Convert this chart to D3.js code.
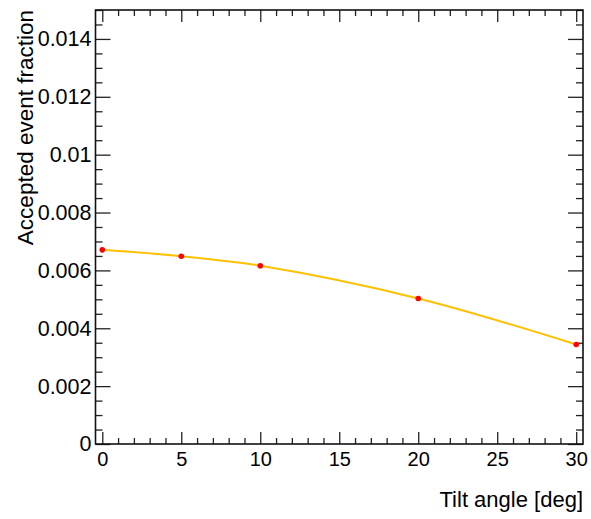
<!DOCTYPE html>
<html>
<head>
<meta charset="utf-8">
<script src="https://cdn.jsdelivr.net/npm/d3@7"></script>
<style>
	body { margin: 0; background: #fff; }
	text { font-family: "Liberation Sans", Arial, sans-serif; fill: #000; }
</style>
</head>
<body>
<script>
const tiltAngles = [0, 5, 10, 20, 30];
const acceptedFraction = [0.00671, 0.00649, 0.00616, 0.00503, 0.00344];
const xMajorTicks = [0, 5, 10, 15, 20, 25, 30];
const yMajorTicks = [0, 0.002, 0.004, 0.006, 0.008, 0.01, 0.012, 0.014];

const svgWidth = 591;
const svgHeight = 519;
const frame = { left: 95.5, right: 583, top: 10, bottom: 444 };

const svg = d3.select("body")
	.append("svg")
	.attr("width", svgWidth)
	.attr("height", svgHeight);

const xScale = d3.scaleLinear()
	.domain([-0.43, 30.43])
	.range([frame.left, frame.right]);

const yScale = d3.scaleLinear()
	.domain([0, 0.015])
	.range([frame.bottom, frame.top]);

const xMinor = d3.range(0, 31, 1).filter((v) => v % 5 !== 0);
const yMinor = d3.range(0, 0.0150001, 0.0005).filter((v) => Math.abs(v / 0.002 - Math.round(v / 0.002)) > 1e-6);

const axesLayer = svg.append("g").attr("class", "axes");

// ticks point inward, like ROOT
const drawAxis = (axis, transform, showLabels) => {
	const g = axesLayer.append("g")
		.attr("transform", transform)
		.call(axis);
	g.select(".domain").remove();
	g.selectAll("line").attr("stroke", "#222").attr("stroke-width", 1.3);
	if (!showLabels) g.selectAll("text").remove();
	return g;
};

// bottom
const xLabels = drawAxis(
	d3.axisBottom(xScale).tickValues(xMajorTicks).tickSize(-12).tickPadding(8).tickFormat(d3.format("d")),
	`translate(0 ${frame.bottom})`, true);
xLabels.selectAll("text").style("font-size", "20px").attr("font-family", null);
drawAxis(d3.axisBottom(xScale).tickValues(xMinor).tickSize(-6), `translate(0 ${frame.bottom})`, false);

// top
drawAxis(d3.axisTop(xScale).tickValues(xMajorTicks).tickSize(-12), `translate(0 ${frame.top})`, false);
drawAxis(d3.axisTop(xScale).tickValues(xMinor).tickSize(-6), `translate(0 ${frame.top})`, false);

// left
const yLabels = drawAxis(
	d3.axisLeft(yScale).tickValues(yMajorTicks).tickSize(-15).tickPadding(4).tickFormat((d) => (d === 0 ? "0" : String(+d.toFixed(3)))),
	`translate(${frame.left} 0)`, true);
yLabels.selectAll("text").style("font-size", "21.5px").attr("font-family", null);
drawAxis(d3.axisLeft(yScale).tickValues(yMinor).tickSize(-7), `translate(${frame.left} 0)`, false);

// right
drawAxis(d3.axisRight(yScale).tickValues(yMajorTicks).tickSize(-15), `translate(${frame.right} 0)`, false);
drawAxis(d3.axisRight(yScale).tickValues(yMinor).tickSize(-7), `translate(${frame.right} 0)`, false);

// frame
axesLayer.append("rect")
	.attr("x", frame.left)
	.attr("y", frame.top)
	.attr("width", frame.right - frame.left)
	.attr("height", frame.bottom - frame.top)
	.attr("fill", "none")
	.attr("stroke", "#111")
	.attr("stroke-width", 1.6);

// titles
svg.append("text")
	.attr("transform", `translate(33 10) rotate(-90)`)
	.attr("text-anchor", "end")
	.style("font-size", "22.5px")
	.text("Accepted event fraction");

svg.append("text")
	.attr("x", frame.right)
	.attr("y", 507)
	.attr("text-anchor", "end")
	.style("font-size", "22px")
	.text("Tilt angle [deg]");

// curve + points
const points = tiltAngles.map((a, i) => ({ angle: a, value: acceptedFraction[i] }));

const line = d3.line()
	.x((d) => xScale(d.angle))
	.y((d) => yScale(d.value))
	.curve(d3.curveCatmullRom);

const dataLayer = svg.append("g").attr("class", "data");

dataLayer.append("path")
	.datum(points)
	.attr("d", line)
	.attr("fill", "none")
	.attr("stroke", "#ffc000")
	.attr("stroke-width", 2);

dataLayer.selectAll("circle")
	.data(points)
	.join("circle")
	.attr("cx", (d) => xScale(d.angle))
	.attr("cy", (d) => yScale(d.value))
	.attr("r", 2.8)
	.attr("fill", "#ff0000");
</script>
</body>
</html>
